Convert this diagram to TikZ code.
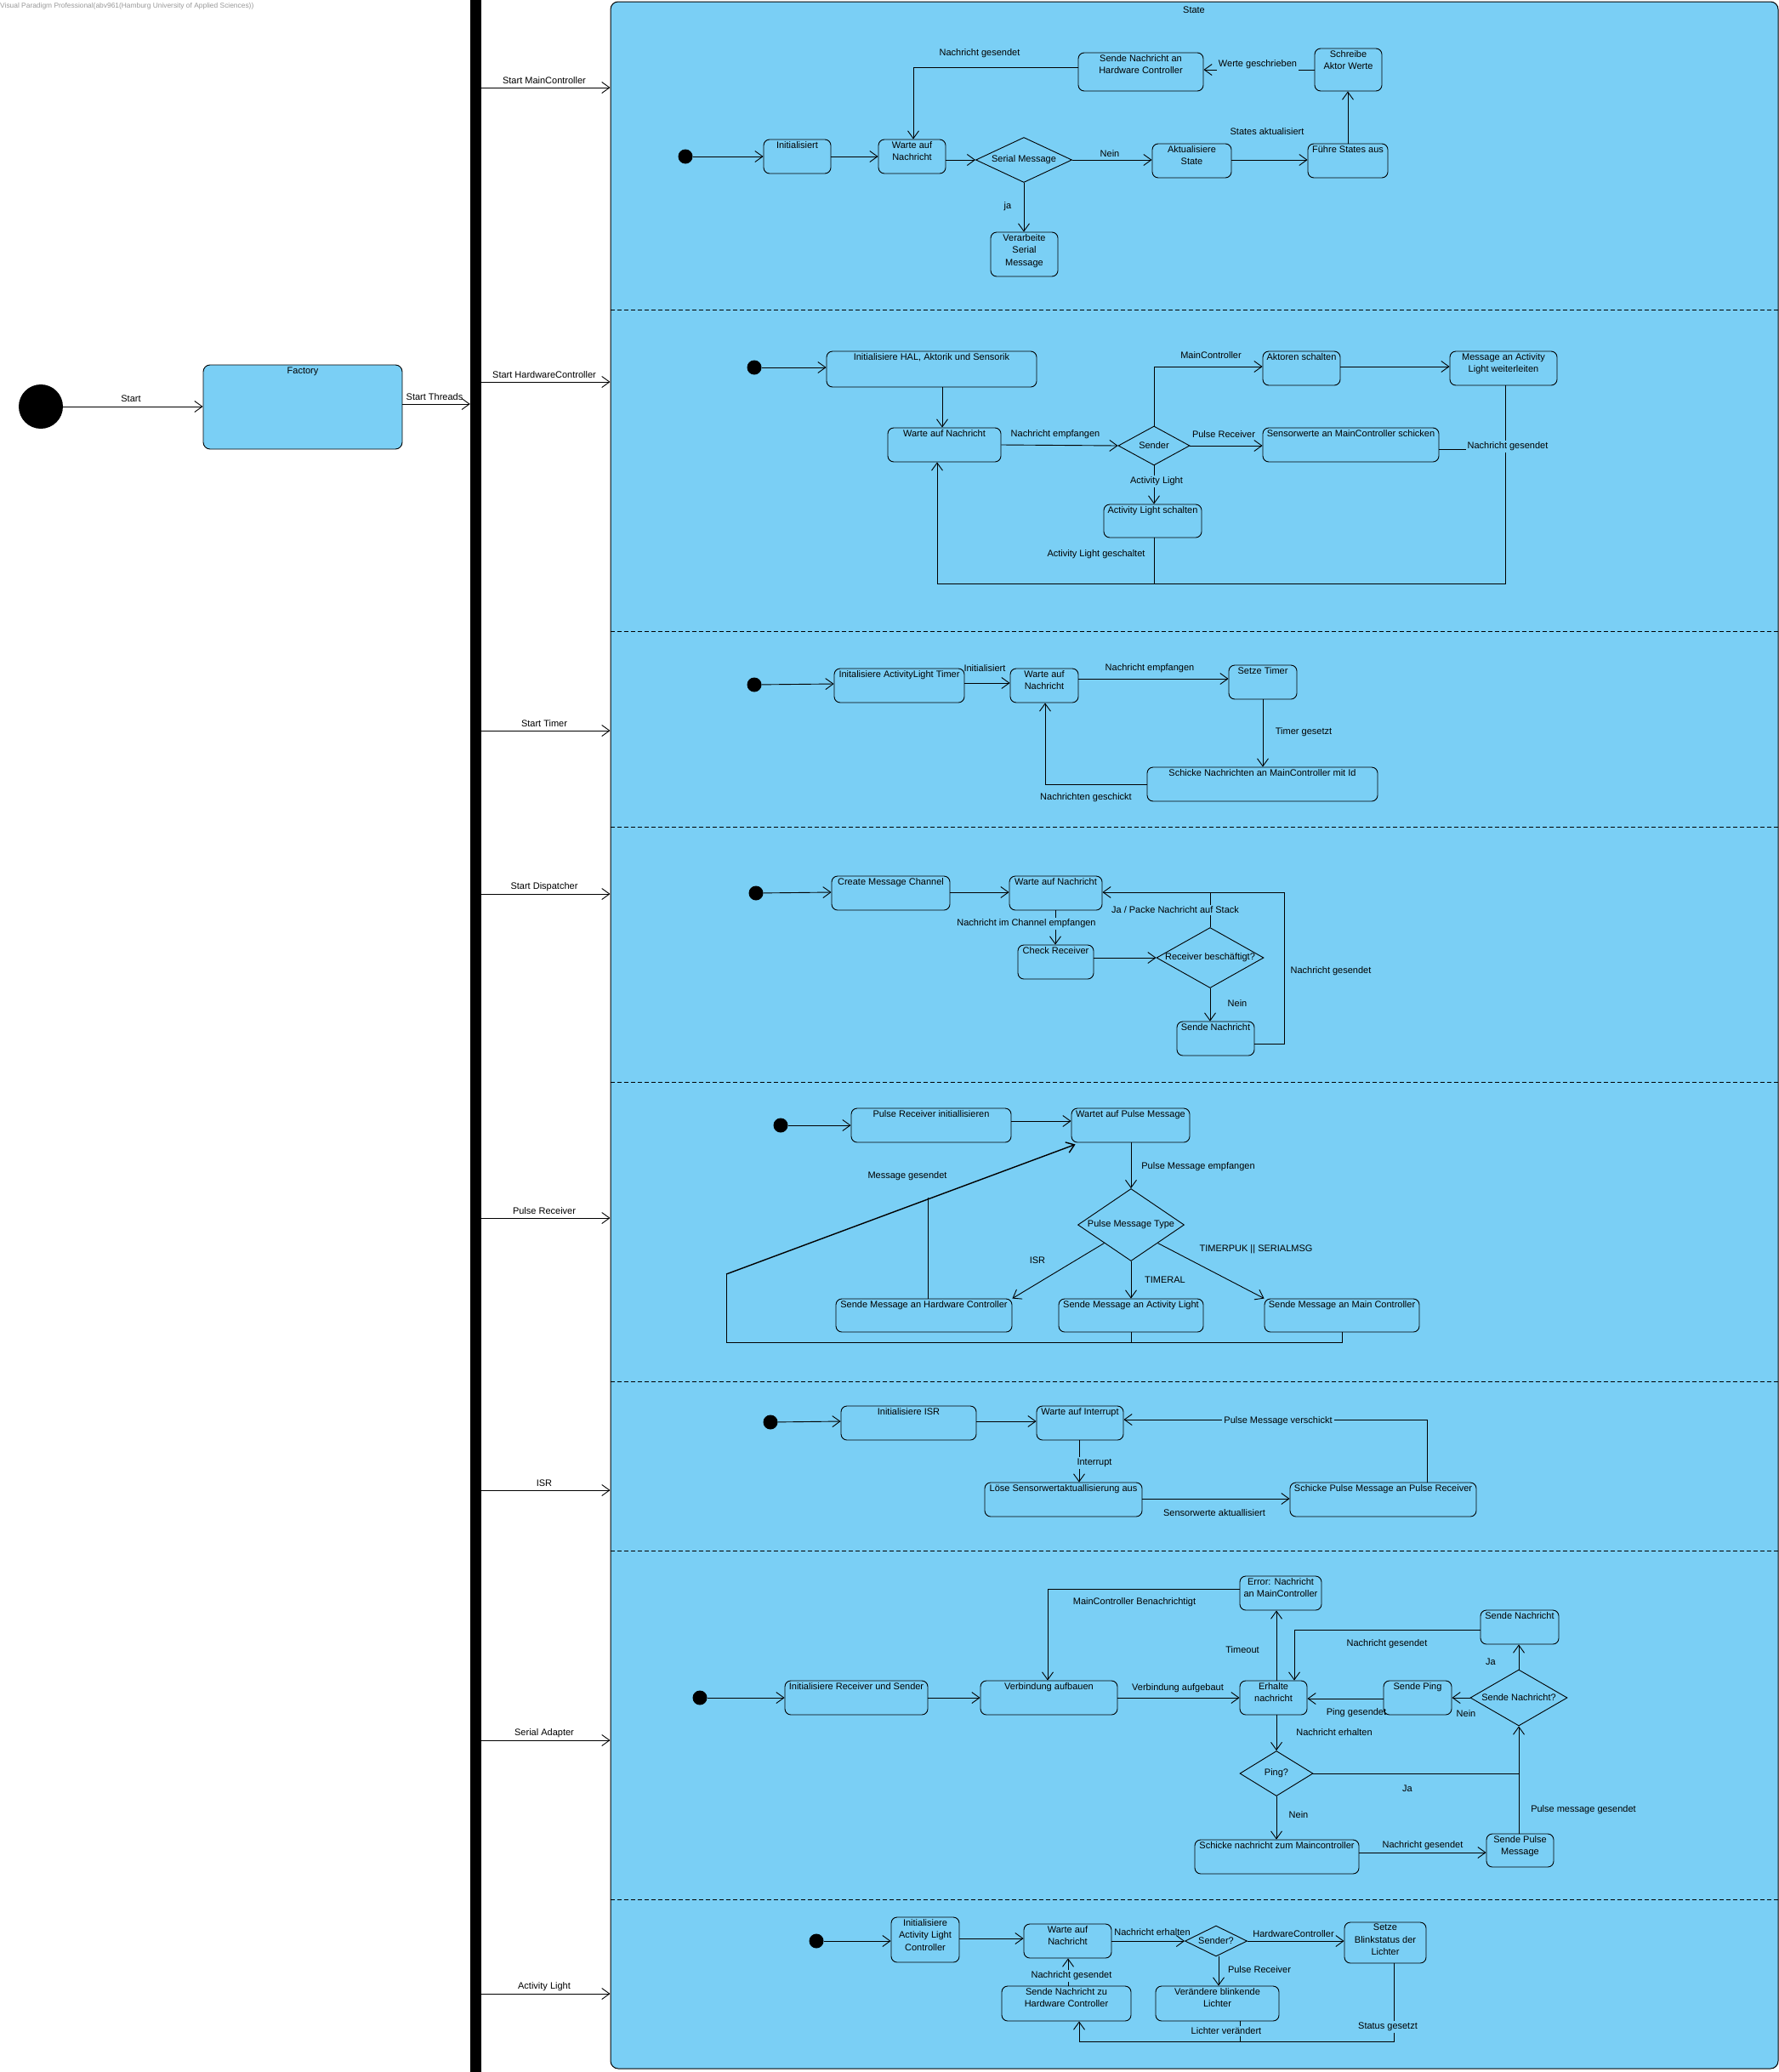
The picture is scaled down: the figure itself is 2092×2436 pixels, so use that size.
\documentclass[tikz,border=0pt]{standalone}
\usepackage{fontspec}
\setmainfont{Liberation Sans}
\usetikzlibrary{arrows.meta,shapes.geometric}
\definecolor{vpblue}{RGB}{122,207,245}
\newcommand\stbx[6]{\node[st,minimum width={#4-#2},minimum height={#5-#3}] (#1) at ({(#2+#4)/2},{(#3+#5)/2}) {};\node[tx,anchor=north] (#1-t) at ([yshift=-1.5pt]#1.north) {#6};}
\newcommand\dmnd[6]{\node[dia,minimum width=#4,minimum height=#5] (#1) at (#2,#3) {};\node[tx] (#1-t) at (#1) {#6};}
\newcommand\lblf[4]{\node[el] (#1) at (#2,#3) {#4};}
\newcommand\lblp[4]{\node[tx] (#1) at (#2,#3) {#4};}
\newcommand\inid[3]{\node[init] (#1) at (#2,#3) {};}
\begin{document}
\begin{tikzpicture}[x=1pt,y=-1pt,
  st/.style={draw,rounded corners=7pt,fill=vpblue,line width=0.9pt,inner sep=0pt},
  dia/.style={draw,diamond,fill=vpblue,line width=0.9pt,inner sep=0pt},
  init/.style={circle,fill=black,inner sep=0pt,minimum size=17pt},
  tx/.style={font=\fontsize{11}{14.5}\selectfont,align=center,inner sep=1pt},
  el/.style={tx,fill=vpblue,inner sep=2pt},
  ln/.style={line width=0.9pt},
  ar/.style={ln,-{Straight Barb[length=9pt,width=13pt]}}]
\useasboundingbox (0,0) rectangle (2092,2436);
\fill[white] (0,0) rectangle (2092,2436);
% watermark
\node[anchor=west,inner sep=0pt,text=black!40,font=\fontsize{8.4}{10}\selectfont] (wm) at (0,7) {Visual Paradigm Professional(abv961(Hamburg University of Applied Sciences))};
% left part
\node[init,minimum size=52pt] (s0) at (48,478) {};
\node[st,rounded corners=8pt,minimum width=234,minimum height=99] (fac) at (356,478.5) {};
\node[tx,anchor=north] (fac-t) at ([yshift=-2pt]fac.north) {Factory};
\node[fill=black,inner sep=0pt,minimum width=13,minimum height=2436] (bar) at (559.5,1218) {};
\draw[ar] (s0) -- (fac.west |- s0);
\lblp{lstart}{154}{469}{Start}
\draw[ar] (fac.east |- 0,475) -- (bar.west |- 0,475);
\lblp{lthr}{511}{467}{Start Threads}
% state container
\node[draw,fill=vpblue,line width=1pt,rounded corners=9pt,inner sep=0pt,minimum width=1373,minimum height=2430] (state) at (1404.5,1217) {};
\lblp{lstate}{1404}{12}{State}
\foreach \y in {364,742,972,1272,1624,1823,2233}
  \draw[line width=0.8pt,dash pattern=on 5pt off 3pt] (state.west |- 0,\y) -- (state.east |- 0,\y);
\foreach \y/\t [count=\i] in {103/Start MainController,449/Start HardwareController,859/Start Timer,1051/Start Dispatcher,1432/Pulse Receiver,1752/ISR,2046/Serial Adapter,2344/Activity Light} {
  \draw[ar] (bar.east |- 0,\y) -- (state.west |- 0,\y);
  \node[tx] (bl\i) at (640,\y-8) {\t};
}
% ---------- Section 1: MainController
\inid{i1}{806}{184}
\stbx{a1}{898}{164}{977}{204}{Initialisiert}
\stbx{a2}{1033}{164}{1112}{204}{Warte auf\\Nachricht}
\dmnd{d1}{1204}{188}{113}{53}{Serial Message}
\stbx{a3}{1355}{169}{1448}{209}{Aktualisiere\\State}
\stbx{a4}{1538}{169}{1632}{209}{Führe States aus}
\stbx{a5}{1546}{57}{1625}{107}{Schreibe\\Aktor Werte}
\stbx{a6}{1268}{62}{1415}{107}{Sende Nachricht an\\Hardware Controller}
\stbx{a7}{1165}{273}{1244}{325}{Verarbeite\\Serial\\Message}
\draw[ar] (i1) -- (a1.west |- i1);
\draw[ar] (a1.east |- 0,184) -- (a2.west |- 0,184);
\draw[ar] (a2.east |- 0,188) -- (d1.west);
\draw[ar] (d1.east) -- (a3.west |- d1.east);
\draw[ar] (a3.east |- 0,188) -- (a4.west |- 0,188);
\draw[ar] (a4.north -| 1585,0) -- (a5.south -| 1585,0);
\draw[ar] (a5.west |- 0,82) -- (a6.east |- 0,82);
\draw[ar] (a6.west |- 0,79) -| (a2.north -| 1074,0);
\draw[ar] (d1.south) -- (a7.north -| d1.south);
\lblp{l11}{1152}{63}{Nachricht gesendet}
\lblf{l12}{1479}{76}{Werte geschrieben}
\lblp{l13}{1490}{155}{States aktualisiert}
\lblp{l14}{1305}{181}{Nein}
\lblp{l15}{1185}{243}{ja}
% ---------- Section 2: HardwareController
\inid{i2}{887}{432}
\stbx{b1}{972}{413}{1219}{455}{Initialisiere HAL, Aktorik und Sensorik}
\stbx{b2}{1044}{503}{1177}{543}{Warte auf Nachricht}
\dmnd{d2}{1357}{524}{84}{46}{Sender}
\stbx{b3}{1485}{413}{1576}{453}{Aktoren schalten}
\stbx{b4}{1705}{413}{1831}{453}{Message an Activity\\Light weiterleiten}
\stbx{b5}{1485}{503}{1692}{543}{Sensorwerte an MainController schicken}
\stbx{b6}{1298}{593}{1413}{632}{Activity Light schalten}
\draw[ar] (i2) -- (b1.west |- i2);
\draw[ar] (b1.south -| 1108,0) -- (b2.north -| 1108,0);
\draw[ar] (b2.east |- 0,523) -- (d2.west);
\draw[ar] (d2.north) |- (b3.west |- 0,431);
\draw[ar] (b3.east |- 0,431) -- (b4.west |- 0,431);
\draw[ar] (d2.east) -- (b5.west |- d2.east);
\draw[ar] (d2.south) -- (b6.north -| d2.south);
\draw[ln] (b6.south -| d2.south) -- (d2.south |- 0,686);
\draw[ar] (b4.south -| 1770,0) |- (1102,686) -- (b2.south -| 1102,0);
\draw[ln] (b5.east |- 0,528) -- (1770,528);
\lblp{l21}{1424}{418}{MainController}
\lblp{l22}{1241}{511}{Nachricht empfangen}
\lblp{l23}{1439}{511}{Pulse Receiver}
\lblf{l24}{1773}{525}{Nachricht gesendet}
\lblf{l25}{1360}{566}{Activity Light}
\lblp{l26}{1289}{652}{Activity Light geschaltet}
% ---------- Section 3: Timer
\inid{i3}{887}{805}
\stbx{c1}{981}{786}{1134}{826}{Initalisiere ActivityLight Timer}
\stbx{c2}{1188}{786}{1268}{826}{Warte auf\\Nachricht}
\stbx{c3}{1445}{782}{1525}{822}{Setze Timer}
\stbx{c4}{1349}{902}{1620}{942}{Schicke Nachrichten an MainController mit Id}
\draw[ar] (i3) -- (c1.west |- 0,804);
\draw[ar] (c1.east |- 0,803) -- (c2.west |- 0,803);
\draw[ar] (c2.east |- 0,798) -- (c3.west |- 0,798);
\draw[ar] (c3.south -| 1485,0) -- (c4.north -| 1485,0);
\draw[ar] (c4.west |- 0,922) -| (c2.south -| 1229,0);
\lblp{l31}{1158}{786}{Initialisiert}
\lblp{l32}{1352}{786}{Nachricht empfangen}
\lblp{l33}{1533}{861}{Timer gesetzt}
\lblp{l34}{1277}{938}{Nachrichten geschickt}
% ---------- Section 4: Dispatcher
\inid{i4}{889}{1050}
\stbx{e1}{978}{1030}{1117}{1070}{Create Message Channel}
\stbx{e2}{1187}{1030}{1296}{1070}{Warte auf Nachricht}
\stbx{e3}{1197}{1111}{1286}{1151}{Check Receiver}
\dmnd{d4}{1423}{1126}{126}{71}{Receiver beschäftigt?}
\stbx{e4}{1384}{1201}{1475}{1241}{Sende Nachricht}
\draw[ar] (i4) -- (e1.west |- 0,1049);
\draw[ar] (e1.east |- 0,1049) -- (e2.west |- 0,1049);
\draw[ar] (e2.south -| 1241,0) -- (e3.north -| 1241,0);
\draw[ar] (e3.east |- 0,1126) -- (d4.west);
\draw[ar] (d4.south) -- (e4.north -| d4.south);
\draw[ar] (d4.north) |- (e2.east |- 0,1049);
\draw[ln] (e4.east |- 0,1227) -| (1510,1049) -- (1423,1049);
\lblf{l41}{1207}{1086}{Nachricht im Channel empfangen}
\lblf{l42}{1382}{1070}{Ja / Packe Nachricht auf Stack}
\lblp{l43}{1455}{1180}{Nein}
\lblf{l44}{1565}{1142}{Nachricht gesendet}
% ---------- Section 5: Pulse Receiver
\inid{i5}{918}{1323}
\stbx{f1}{1001}{1303}{1189}{1343}{Pulse Receiver initiallisieren}
\stbx{f2}{1260}{1303}{1399}{1343}{Wartet auf Pulse Message}
\dmnd{d5}{1330}{1440}{125}{85}{Pulse Message Type}
\stbx{f3}{983}{1527}{1190}{1566}{Sende Message an Hardware Controller}
\stbx{f4}{1245}{1527}{1415}{1566}{Sende Message an Activity Light}
\stbx{f5}{1487}{1527}{1669}{1566}{Sende Message an Main Controller}
\draw[ar] (i5) -- (f1.west |- 0,1323);
\draw[ar] (f1.east |- 0,1318) -- (f2.west |- 0,1318);
\draw[ar] (f2.south -| 1330,0) -- (d5.north);
\draw[ar] (d5.south west) -- (f3.north east);
\draw[ar] (d5.south) -- (f4.north -| d5.south);
\draw[ar] (d5.south east) -- (f5.north west);
\draw[ln] (f5.south -| 1578,0) |- (854,1578) -- (854,1498);
\draw[ln] (f4.south -| 1330,0) -- (1330,1578);
\draw[ar,line width=1.4pt] (854,1498) -- ([xshift=5pt,yshift=-2pt]f2.south west);
\draw[ln] (f3.north -| 1091,0) -- (1091,1407.5);
\lblp{l51}{1409}{1372}{Pulse Message empfangen}
\lblp{l52}{1220}{1482}{ISR}
\lblp{l53}{1370}{1505}{TIMERAL}
\lblp{l54}{1477}{1469}{TIMERPUK || SERIALMSG}
\lblp{l55}{1067}{1383}{Message gesendet}
% ---------- Section 6: ISR
\inid{i6}{906}{1672}
\stbx{g1}{989}{1653}{1148}{1693}{Initialisiere ISR}
\stbx{g2}{1219}{1653}{1321}{1693}{Warte auf Interrupt}
\stbx{g3}{1158}{1743}{1343}{1783}{Löse Sensorwertaktuallisierung aus}
\stbx{g4}{1517}{1743}{1736}{1783}{Schicke Pulse Message an Pulse Receiver}
\draw[ar] (i6) -- (g1.west |- 0,1671);
\draw[ar] (g1.east |- 0,1671) -- (g2.west |- 0,1671);
\draw[ar] (g2.south -| 1269,0) -- (g3.north -| 1269,0);
\draw[ar] (g3.east |- 0,1762) -- (g4.west |- 0,1762);
\draw[ar] (g4.north -| 1678,0) |- (g2.east |- 0,1669);
\lblf{l61}{1287}{1720}{Interrupt}
\lblp{l62}{1428}{1779}{Sensorwerte aktuallisiert}
\lblf{l63}{1503}{1671}{Pulse Message verschickt}
% ---------- Section 7: Serial Adapter
\inid{i7}{823}{1996}
\stbx{h1}{923}{1976}{1091}{2016}{Initialisiere Receiver und Sender}
\stbx{h2}{1153}{1976}{1314}{2016}{Verbindung aufbauen}
\stbx{h3}{1458}{1976}{1537}{2016}{Erhalte\\nachricht}
\stbx{h4}{1458}{1853}{1554}{1893}{Error: Nachricht\\an MainController}
\stbx{h5}{1741}{1893}{1833}{1933}{Sende Nachricht}
\stbx{h6}{1627}{1976}{1707}{2016}{Sende Ping}
\dmnd{d7a}{1786}{1996}{114}{66}{Sende Nachricht?}
\dmnd{d7b}{1501}{2085}{86}{53}{Ping?}
\stbx{h7}{1405}{2163}{1598}{2203}{Schicke nachricht zum Maincontroller}
\stbx{h8}{1748}{2156}{1827}{2195}{Sende Pulse\\Message}
\draw[ar] (i7) -- (h1.west |- i7);
\draw[ar] (h1.east |- 0,1996) -- (h2.west |- 0,1996);
\draw[ar] (h2.east |- 0,1996) -- (h3.west |- 0,1996);
\draw[ar] (h3.north -| 1501,0) -- (h4.south -| 1501,0);
\draw[ar] (h4.west |- 0,1868) -| (h2.north -| 1232,0);
\draw[ar] (h5.west |- 0,1916) -| (h3.north -| 1522,0);
\draw[ar] (h6.west |- 0,1997) -- (h3.east |- 0,1997);
\draw[ar] (d7a.west) -- (h6.east |- d7a.west);
\draw[ar] (d7a.north) -- (h5.south -| d7a.north);
\draw[ar] (h3.south -| 1501,0) -- (d7b.north);
\draw[ln] (d7b.east) -- (1786,2085);
\draw[ar] (d7b.south) -- (h7.north -| d7b.south);
\draw[ar] (h7.east |- 0,2178) -- (h8.west |- 0,2178);
\draw[ar] (h8.north -| 1786,0) -- (d7a.south);
\lblp{l71}{1385}{1985}{Verbindung aufgebaut}
\lblp{l72}{1461}{1940}{Timeout}
\lblp{l73}{1334}{1884}{MainController Benachrichtigt}
\lblp{l74}{1631}{1933}{Nachricht gesendet}
\lblp{l75}{1595}{2014}{Ping gesendet}
\lblp{l76}{1724}{2015}{Nein}
\lblp{l77}{1753}{1954}{Ja}
\lblp{l78}{1569}{2037}{Nachricht erhalten}
\lblp{l79}{1655}{2103}{Ja}
\lblp{l7a}{1527}{2134}{Nein}
\lblp{l7b}{1673}{2170}{Nachricht gesendet}
\lblp{l7c}{1862}{2128}{Pulse message gesendet}
% ---------- Section 8: Activity Light
\inid{i8}{960}{2282}
\stbx{k1}{1048}{2254}{1128}{2307}{Initialisiere\\Activity Light\\Controller}
\stbx{k2}{1204}{2262}{1307}{2302}{Warte auf\\Nachricht}
\dmnd{d8}{1430}{2282}{73}{36}{Sender?}
\stbx{k3}{1581}{2260}{1677}{2308}{Setze\\Blinkstatus der\\Lichter}
\stbx{k4}{1178}{2335}{1330}{2376}{Sende Nachricht zu\\Hardware Controller}
\stbx{k5}{1359}{2335}{1504}{2376}{Verändere blinkende\\Lichter}
\draw[ar] (i8) -- (k1.west |- i8);
\draw[ar] (k1.east |- 0,2279) -- (k2.west |- 0,2279);
\draw[ar] (k2.east |- 0,2282) -- (d8.west);
\draw[ar] (d8.east) -- (k3.west |- d8.east);
\draw[ar] (d8.south -| 1433,0) -- (k5.north -| 1433,0);
\draw[ar] (k3.south -| 1639,0) |- (1269,2400) -- (k4.south -| 1269,0);
\draw[ln] (k5.south -| 1458,0) -- (1458,2400);
\draw[ar] (k4.north -| 1256,0) -- (k2.south -| 1256,0);
\lblp{l81}{1355}{2272}{Nachricht erhalten}
\lblp{l82}{1521}{2274}{HardwareController}
\lblp{l83}{1481}{2316}{Pulse Receiver}
\lblf{l84}{1632}{2383}{Status gesetzt}
\lblf{l85}{1442}{2388}{Lichter verändert}
\lblf{l86}{1260}{2323}{Nachricht gesendet}
\end{tikzpicture}
\end{document}
